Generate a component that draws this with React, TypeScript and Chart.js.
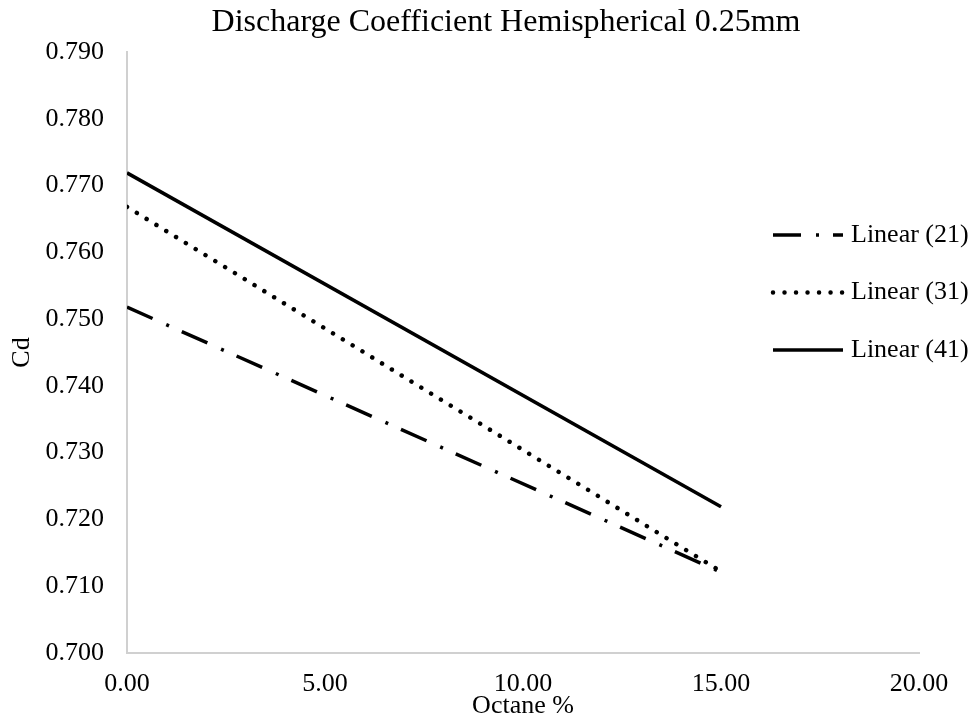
import React, { useEffect, useRef } from 'react';
import { Chart, registerables } from 'chart.js';

Chart.register(...registerables);

const FONT = "'Liberation Serif', 'Times New Roman', serif";

const TITLE = 'Discharge Coefficient Hemispherical 0.25mm';
const X_TITLE = 'Octane %';
const Y_TITLE = 'Cd';
const SERIES_LABELS = ['Linear (21)', 'Linear (31)', 'Linear (41)'];
const X_VALUES = [0, 15];
const LINEAR_21 = [0.7518, 0.7121];
const LINEAR_31 = [0.7668, 0.7122];
const LINEAR_41 = [0.7719, 0.7219];
const X_MIN = 0;
const X_MAX = 20;
const X_STEP = 5;
const Y_MIN = 0.7;
const Y_MAX = 0.79;
const Y_STEP = 0.01;

const toPoints = (ys: number[]) => X_VALUES.map((x, i) => ({ x, y: ys[i] }));

const sideLegend = {
  id: 'sideLegend',
  afterDraw(chart: any) {
    const { ctx, chartArea } = chart;
    const midY = (chartArea.top + chartArea.bottom) / 2;
    chart.data.datasets.forEach((ds: any, i: number) => {
      const y = midY - 117.5 + i * 57.5;
      const x0 = chartArea.right - 146;
      ctx.save();
      ctx.strokeStyle = ds.borderColor;
      ctx.lineWidth = ds.borderWidth;
      ctx.lineCap = ds.borderCapStyle || 'butt';
      ctx.setLineDash(ds.borderDash || []);
      ctx.beginPath();
      ctx.moveTo(x0, y);
      ctx.lineTo(x0 + 70, y);
      ctx.stroke();
      ctx.setLineDash([]);
      ctx.fillStyle = '#000';
      ctx.font = `26px ${FONT}`;
      ctx.textBaseline = 'middle';
      ctx.textAlign = 'left';
      ctx.fillText(ds.label, x0 + 78, y);
      ctx.restore();
    });
  },
};

export default function App() {
  const ref = useRef<HTMLCanvasElement>(null);

  useEffect(() => {
    if (!ref.current) return;
    const chart = new Chart(ref.current, {
      type: 'line',
      data: {
        datasets: [
          {
            label: SERIES_LABELS[0],
            data: toPoints(LINEAR_21),
            borderColor: '#000',
            borderWidth: 3.5,
            borderDash: [28, 15, 3, 14],
            borderCapStyle: 'butt',
            pointRadius: 0,
            fill: false,
          },
          {
            label: SERIES_LABELS[1],
            data: toPoints(LINEAR_31),
            borderColor: '#000',
            borderWidth: 4.5,
            borderDash: [0.01, 11.5],
            borderCapStyle: 'round',
            pointRadius: 0,
            fill: false,
          },
          {
            label: SERIES_LABELS[2],
            data: toPoints(LINEAR_41),
            borderColor: '#000',
            borderWidth: 3.5,
            borderCapStyle: 'butt',
            pointRadius: 0,
            fill: false,
          },
        ],
      },
      options: {
        responsive: false,
        animation: false,
        layout: { padding: 0 },
        plugins: {
          legend: { display: false },
          tooltip: { enabled: false },
          title: {
            display: true,
            text: TITLE,
            color: '#000',
            font: { family: FONT, size: 32, weight: 'normal' },
            padding: { top: 3, bottom: 10.6 },
          },
        },
        scales: {
          x: {
            type: 'linear',
            min: X_MIN,
            max: X_MAX,
            afterFit: (s: any) => { s.height = 70; },
            grid: { display: false, drawTicks: false },
            border: { display: true, color: '#d0d0d0', width: 2 },
            ticks: {
              stepSize: X_STEP,
              color: '#000',
              padding: 16,
              font: { family: FONT, size: 26 },
              callback: (v: any) => Number(v).toFixed(2),
            },
            title: {
              display: true,
              text: X_TITLE,
              color: '#000',
              font: { family: FONT, size: 26 },
              padding: { top: 0, bottom: 1 },
            },
          },
          y: {
            type: 'linear',
            min: Y_MIN,
            max: Y_MAX,
            afterFit: (s: any) => { s.width = 127; },
            grid: { display: false, drawTicks: false },
            border: { display: true, color: '#d0d0d0', width: 2 },
            ticks: {
              stepSize: Y_STEP,
              color: '#000',
              padding: 23,
              font: { family: FONT, size: 26 },
              callback: (v: any) => Number(v).toFixed(3),
            },
            title: {
              display: true,
              text: Y_TITLE,
              color: '#000',
              font: { family: FONT, size: 26 },
              padding: { top: 7, bottom: 0 },
            },
          },
          yRight: {
            type: 'linear',
            position: 'right',
            display: true,
            afterFit: (s: any) => { s.width = 93; },
            grid: { display: false, drawTicks: false },
            border: { display: false },
            ticks: { display: false },
          },
        },
      },
      plugins: [sideLegend],
    } as any);
    return () => chart.destroy();
  }, []);

  return (
    <div
      style={{
        position: 'fixed',
        left: 0,
        top: 0,
        width: 975,
        height: 723,
        overflow: 'hidden',
        background: '#fff',
      }}
    >
      <canvas ref={ref} width={1012} height={723} style={{ display: 'block' }} />
    </div>
  );
}
